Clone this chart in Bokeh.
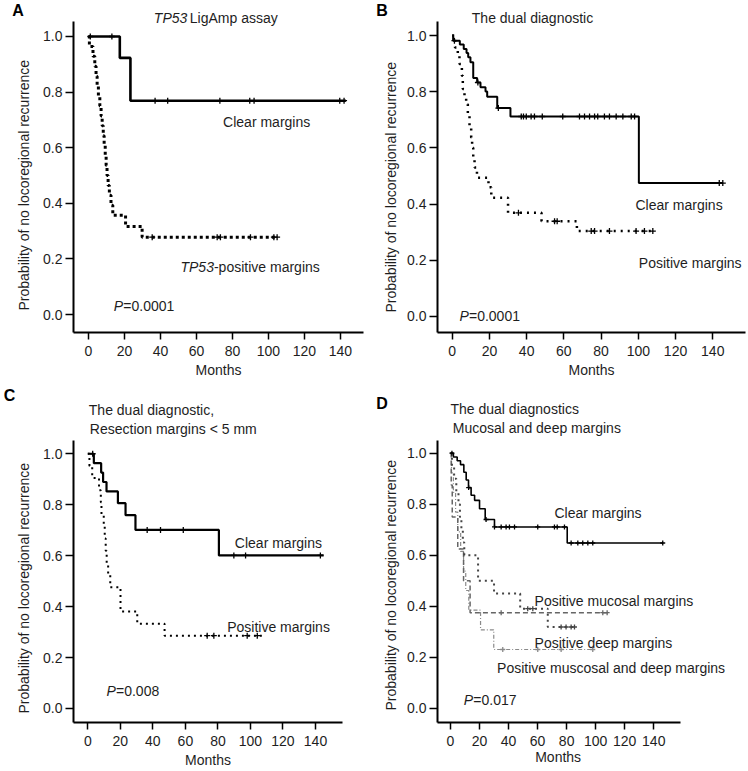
from bokeh.plotting import figure
from bokeh.models import Label, Title, FixedTicker, NumeralTickFormatter, Range1d
from bokeh.layouts import column, row
from bokeh.embed import file_html
from bokeh.resources import INLINE

FONT = "Liberation Sans"
TXT = "#1e1e1e"
YLABEL = "Probability of no locoregional recurrence"

# ---------------- data (Kaplan-Meier steps) ----------------
x_ticks = [0, 20, 40, 60, 80, 100, 120, 140]
y_ticks = [0.0, 0.2, 0.4, 0.6, 0.8, 1.0]

# Panel A: TP53 LigAmp assay
a_clear_t = [0, 17.4, 23.3]
a_clear_s = [1.0, 0.923, 0.769]
a_clear_end = 143
a_clear_cens = [1, 13, 37, 44, 73, 89.6, 92, 139.6, 142]

a_pos_t = [0, 0.5, 2.5, 3.5, 4.2, 4.8, 5.5, 6.3, 7.0, 7.6, 8.2, 8.7, 9.3, 9.8,
           10.3, 10.9, 11.6, 12.5, 13.5, 20.6, 29.8]
a_pos_s = [1.0, 0.964, 0.929, 0.893, 0.857, 0.821, 0.786, 0.75, 0.714, 0.679,
           0.643, 0.607, 0.571, 0.536, 0.5, 0.464, 0.429, 0.393, 0.357, 0.317, 0.278]
a_pos_end = 105
a_pos_cens = [35.4, 71.5, 73.3, 90, 103, 104.8]

# Panel B: the dual diagnostic
b_clear_t = [0, 0.5, 4.1, 6.2, 7.7, 8.6, 9.8, 11.3, 13.4, 15.2, 17.9, 18.8, 24.2, 31.3, 100.3]
b_clear_s = [1.0, 0.982, 0.968, 0.952, 0.938, 0.923, 0.905, 0.849, 0.833, 0.816,
             0.801, 0.782, 0.742, 0.712, 0.475]
b_clear_end = 145.4
b_clear_cens = [1.2, 13.8, 24.8, 37.1, 38.3, 39.8, 42.4, 44.2, 48.4, 59.4, 68.4, 71.1,
                73.8, 76.5, 78.2, 81.8, 84.5, 88.1, 91.7, 96.2, 98, 143.5, 145.4]

b_pos_t = [0, 1.5, 3.0, 3.9, 5.2, 5.7, 6.6, 7.5, 8.4, 9.3, 10.2, 10.7, 11.3, 12.0,
           13.3, 19.5, 21.0, 30.0, 48.0, 67.0]
b_pos_s = [1.0, 0.958, 0.935, 0.899, 0.857, 0.81, 0.786, 0.756, 0.72, 0.673, 0.637,
           0.601, 0.565, 0.53, 0.494, 0.46, 0.423, 0.369, 0.339, 0.304]
b_pos_end = 108.7
b_pos_cens = [35.6, 55, 56.4, 74.7, 76.5, 84.5, 98.8, 103.3, 107.8]

# Panel C: the dual diagnostic, resection margins < 5 mm
c_clear_t = [0, 3.7, 8.2, 9.4, 11.5, 18.5, 23.2, 29.3, 80.6]
c_clear_s = [1.0, 0.963, 0.926, 0.889, 0.852, 0.806, 0.759, 0.701, 0.601]
c_clear_end = 145
c_clear_cens = [3, 36.5, 44.7, 58.7, 89.8, 97, 143]

c_pos_t = [0, 1.0, 2.7, 6.9, 8.0, 8.4, 9.8, 10.4, 11.0, 11.6, 12.5, 13.8, 20.1, 30.4, 47.2]
c_pos_s = [1.0, 0.952, 0.905, 0.857, 0.81, 0.762, 0.714, 0.667, 0.619, 0.571,
           0.524, 0.476, 0.381, 0.333, 0.286]
c_pos_end = 107
c_pos_cens = [73.4, 77.5, 98, 104.2]

# Panel D: mucosal and deep margins
d_clear_t = [0, 2.0, 4.6, 6.9, 9.2, 10.8, 12.4, 14.2, 16.6, 20.0, 23.9, 30.3, 80.4]
d_clear_s = [1.0, 0.985, 0.97, 0.955, 0.925, 0.895, 0.865, 0.835, 0.815, 0.782,
             0.74, 0.711, 0.648]
d_clear_end = 146.5
d_clear_cens = [1, 12.5, 24.5, 30.3, 34.9, 38.3, 40.6, 44.1, 60.1, 71.6, 73.5, 78.5,
                83.1, 87.7, 91.1, 94.6, 98, 146.2]

d_muc_t = [0, 1.0, 2.5, 4.0, 5.5, 6.5, 7.5, 8.5, 9.5, 19.0, 30.0, 48.0, 67.0]
d_muc_s = [1.0, 0.95, 0.9, 0.85, 0.8, 0.75, 0.7, 0.65, 0.6, 0.5, 0.45, 0.391, 0.319]
d_muc_end = 86.6
d_muc_cens = [53.2, 56.7, 76.2, 79.6, 83.1, 85.4]

d_deep_t = [0, 0.5, 1.2, 5.0, 9.0, 13.5]
d_deep_s = [1.0, 0.875, 0.75, 0.625, 0.5, 0.375]
d_deep_end = 108.3
d_deep_cens = [34.9, 104.9, 107.9]

d_both_t = [0, 0.7, 2.0, 3.5, 5.0, 7.0, 9.0, 10.5, 12.6, 20.7, 29.8]
d_both_s = [1.0, 0.923, 0.846, 0.769, 0.692, 0.615, 0.538, 0.462, 0.385, 0.308, 0.231]
d_both_end = 98.7
d_both_cens = [36, 60.1, 76.2, 98]


# ---------------- helpers ----------------
def surv_at(times, surv, t):
    val = surv[0]
    for ti, si in zip(times, surv):
        if ti <= t:
            val = si
    return val


def km(p, times, surv, end, cens, color="black", width=2, dash="solid", msize=6):
    xs = list(times) + [end]
    ys = list(surv) + [surv[-1]]
    p.step(xs, ys, mode="after", line_color=color, line_width=width, line_dash=dash)
    cy = [surv_at(times, surv, t) for t in cens]
    p.scatter(cens, cy, marker="cross", size=msize, line_color=color, line_width=1.3)


def make_fig(w, h, left, right, bottom, xr, yr, xbounds, ybounds,
             yl_offset, yl_standoff, months=True):
    p = figure(width=w, height=h, x_range=Range1d(*xr), y_range=Range1d(*yr),
               output_backend="svg", toolbar_location=None,
               min_border_left=left, min_border_right=right,
               min_border_top=6, min_border_bottom=bottom)
    p.outline_line_color = None
    p.grid.visible = False
    p.background_fill_color = "white"
    p.border_fill_color = "white"
    p.xaxis.ticker = FixedTicker(ticks=x_ticks)
    p.yaxis.ticker = FixedTicker(ticks=y_ticks)
    p.yaxis.formatter = NumeralTickFormatter(format="0.0")
    p.xaxis.bounds = xbounds
    p.yaxis.bounds = ybounds
    for ax in (p.xaxis[0], p.yaxis[0]):
        ax.axis_line_width = 2
        ax.axis_line_color = "black"
        ax.major_tick_line_width = 1.5
        ax.major_tick_line_color = "black"
        ax.major_tick_in = 0
        ax.major_tick_out = 7
        ax.minor_tick_line_color = None
        ax.major_label_text_font = FONT
        ax.major_label_text_font_size = "14px"
        ax.major_label_text_color = TXT
        ax.axis_label_text_font = FONT
        ax.axis_label_text_font_size = "14px"
        ax.axis_label_text_font_style = "normal"
        ax.axis_label_text_color = TXT
    if months:
        p.xaxis.axis_label = "Months"
    p.xaxis.major_label_standoff = 6
    p.xaxis.axis_label_standoff = 3
    p.yaxis.major_label_standoff = 3
    p.yaxis.major_tick_out = 8
    # y-axis title as a side title so that it can sit along the drawn axis
    p.add_layout(Title(text=YLABEL, align="left", offset=yl_offset, standoff=yl_standoff,
                       vertical_align="bottom", text_font=FONT, text_font_size="14px",
                       text_font_style="normal", text_color=TXT), "left")
    return p


def letter(p, text, offset, standoff):
    p.add_layout(Title(text=text, align="left", offset=offset, standoff=standoff,
                       vertical_align="bottom", text_font=FONT, text_font_size="16px",
                       text_font_style="bold", text_color="black"), "above")


def lab(p, x, y, text, style="normal", size="14px", xoff=0, align="left"):
    p.add_layout(Label(x=x, y=y, text=text, x_offset=xoff,
                       text_font=FONT, text_font_size=size, text_font_style=style,
                       text_color=TXT, text_baseline="alphabetic", text_align=align))


# ---------------- Panel A ----------------
pA = make_fig(374, 380, 73, 11, 48, (-8.33, 152.8), (-0.0647, 1.1079),
              (-8.33, 152.8), (-0.0647, 1.054), 22, 18)
km(pA, a_pos_t, a_pos_s, a_pos_end, a_pos_cens, width=3, dash="3 3")
km(pA, a_clear_t, a_clear_s, a_clear_end, a_clear_cens, width=2.6)
letter(pA, "A", -61.3, -25.5)
lab(pA, 36.3, 1.0673, "TP53", style="italic")
lab(pA, 36.3, 1.0673, "LigAmp assay", xoff=36)
lab(pA, 74.8, 0.692, "Clear margins")
lab(pA, 51.1, 0.170, "TP53", style="italic")
lab(pA, 51.1, 0.170, "-positive margins", xoff=33.5)
lab(pA, 14.1, 0.032, "P", style="italic")
lab(pA, 14.1, 0.032, "=0.0001", xoff=9.5)

# ---------------- Panel B ----------------
pB = make_fig(374, 380, 63, 3, 48, (-7.9, 157.6), (-0.057, 1.1036),
              (-7.9, 157.6), (-0.057, 1.05), 20, 12)
km(pB, b_pos_t, b_pos_s, b_pos_end, b_pos_cens, width=2.5, dash="2 5")
km(pB, b_clear_t, b_clear_s, b_clear_end, b_clear_cens, width=2)
letter(pB, "B", -61.3, -25.5)
lab(pB, 10.53, 1.0632, "The dual diagnostic")
lab(pB, 98.5, 0.396, "Clear margins")
lab(pB, 100.3, 0.190, "Positive margins")
lab(pB, 3.9, 0.0, "P", style="italic")
lab(pB, 3.9, 0.0, "=0.0001", xoff=9.5)

# ---------------- Panel C ----------------
pC = make_fig(374, 390, 73, 32, 48, (-8.8, 156.6), (-0.055, 1.2639),
              (-8.8, 156.6), (-0.055, 1.052), 9, 18)
km(pC, c_pos_t, c_pos_s, c_pos_end, c_pos_cens, width=2, dash="2 4")
km(pC, c_clear_t, c_clear_s, c_clear_end, c_clear_cens, width=2.2)
letter(pC, "C", -69.7, -35.0)
lab(pC, 0.615, 1.1725, "The dual diagnostic,")
lab(pC, 1.23, 1.098, "Resection margins < 5 mm")
lab(pC, 90.4, 0.651, "Clear margins")
lab(pC, 85.7, 0.32, "Positive margins")
lab(pC, 11.5, 0.069, "P", style="italic")
lab(pC, 11.5, 0.069, "=0.008", xoff=9.5)

# ---------------- Panel D ----------------
pD = make_fig(374, 390, 63, 3, 48, (-8.95, 203.2), (-0.055, 1.2610),
              (-8.95, 158.4), (-0.055, 1.05), 12, 12, months=False)
km(pD, d_both_t, d_both_s, d_both_end, d_both_cens, color="#8a8a8a", width=1.2, dash="4 2 1 2", msize=5)
km(pD, d_deep_t, d_deep_s, d_deep_end, d_deep_cens, color="#666666", width=1.5, dash="5 3", msize=5)
km(pD, d_muc_t, d_muc_s, d_muc_end, d_muc_cens, color="#444444", width=2, dash="2 4", msize=5)
km(pD, d_clear_t, d_clear_s, d_clear_end, d_clear_cens, width=1.6, msize=5)
letter(pD, "D", -61.3, -51.0)
lab(pD, 0.0, 1.1737, "The dual diagnostics")
lab(pD, 1.58, 1.0978, "Mucosal and deep margins")
lab(pD, 71.6, 0.767, "Clear margins")
lab(pD, 57.9, 0.42, "Positive mucosal margins")
lab(pD, 57.9, 0.257, "Positive deep margins")
lab(pD, 32.1, 0.16, "Positive muscosal and deep margins")
lab(pD, 9.2, 0.032, "P", style="italic")
lab(pD, 9.2, 0.032, "=0.017", xoff=9.5)
pD.add_layout(Title(text="Months", align="left", offset=97.7, standoff=0,
                    vertical_align="top", text_font=FONT, text_font_size="14px",
                    text_font_style="normal", text_color=TXT), "below")

layout = column(row(pA, pB), row(pC, pD))
open("out.html", "w").write(file_html(layout, INLINE))
